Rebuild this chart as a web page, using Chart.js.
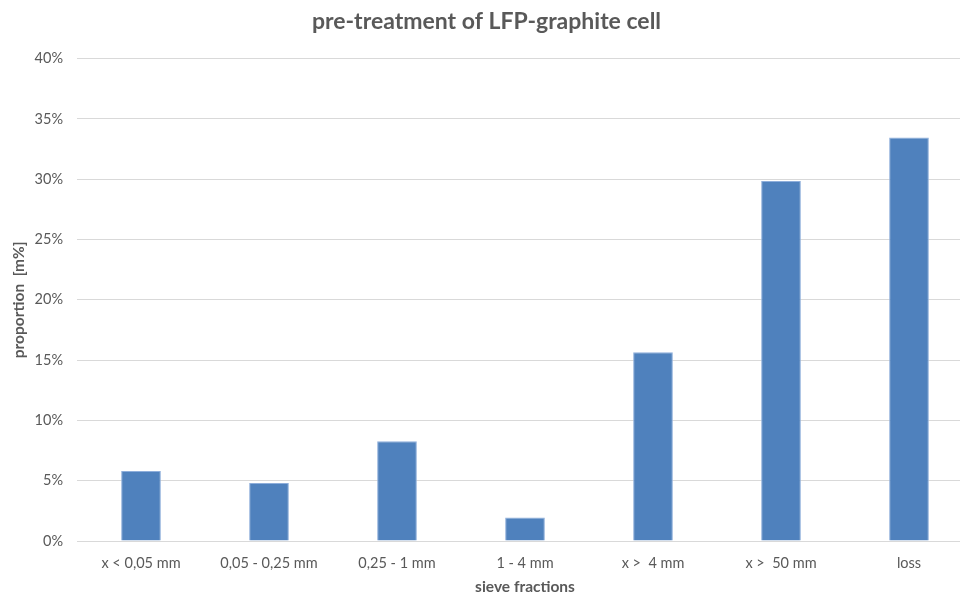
<!DOCTYPE html>
<html>
<head>
<meta charset="utf-8">
<script src="https://cdn.jsdelivr.net/npm/chart.js@4"></script>
<style>
  html, body { margin: 0; padding: 0; background: #fff; overflow: hidden; }
  #wrap { width: 963px; height: 596px; overflow: hidden; }
</style>
</head>
<body>
<div id="wrap"><canvas id="chart" width="973" height="596"></canvas></div>
<script>
// sieve fractions of the pre-treated cell
const fractions = ['x < 0,05 mm', '0,05 - 0,25 mm', '0,25 - 1 mm', '1 - 4 mm', 'x >  4 mm', 'x >  50 mm', 'loss'];
const proportion = [5.8, 4.8, 8.28, 1.95, 15.65, 29.85, 33.45];
const yTicks = [0, 5, 10, 15, 20, 25, 30, 35, 40];

const grey = '#595959';
const font = 'Lato, "Open Sans", sans-serif';

// the source picture is cut off on the right, so the grid stops short of the last category
const cropGrid = {
  id: 'cropGrid',
  beforeDatasetsDraw(chart) {
    const { ctx, chartArea } = chart;
    ctx.save();
    ctx.fillStyle = '#fff';
    ctx.fillRect(960, chartArea.top - 2, chart.width - 960, chartArea.bottom - chartArea.top + 4);
    ctx.restore();
  }
};

new Chart(document.getElementById('chart'), {
  type: 'bar',
  data: {
    labels: fractions,
    datasets: [{
      data: proportion,
      backgroundColor: '#4f81bd',
      borderColor: '#8eaedb',
      borderWidth: 1,
      barPercentage: 1,
      categoryPercentage: 0.31
    }]
  },
  options: {
    responsive: false,
    animation: false,
    layout: { padding: { left: 0, right: 0, top: 0, bottom: 0 } },
    plugins: {
      legend: { display: false },
      tooltip: { enabled: false },
      title: {
        display: true,
        text: 'pre-treatment of LFP-graphite cell',
        color: grey,
        font: { family: font, size: 23, weight: 'bold' },
        padding: { top: 8, bottom: 23 }
      }
    },
    scales: {
      x: {
        afterFit: axis => { axis.height = 55; },
        grid: { display: false, drawTicks: false },
        border: { display: false },
        ticks: { color: grey, font: { family: font, size: 14.5 }, padding: 14, maxRotation: 0 },
        title: { display: true, text: 'sieve fractions', color: grey, font: { family: font, size: 15.5, weight: 'bold' }, padding: { top: 0, bottom: 0 } }
      },
      y: {
        min: 0, max: 40,
        afterFit: axis => { axis.width = 77; },
        afterBuildTicks: axis => { axis.ticks = yTicks.map(v => ({ value: v })); },
        grid: { color: '#d9d9d9', lineWidth: 1, drawTicks: false },
        border: { display: false },
        ticks: { color: grey, font: { family: font, size: 14.5 }, padding: 14, callback: v => v + '%' },
        title: { display: true, text: 'proportion  [m%]', color: grey, font: { family: font, size: 15.5, weight: 'bold' }, padding: { top: 10, bottom: 0 } }
      }
    }
  },
  plugins: [cropGrid]
});
</script>
</body>
</html>
